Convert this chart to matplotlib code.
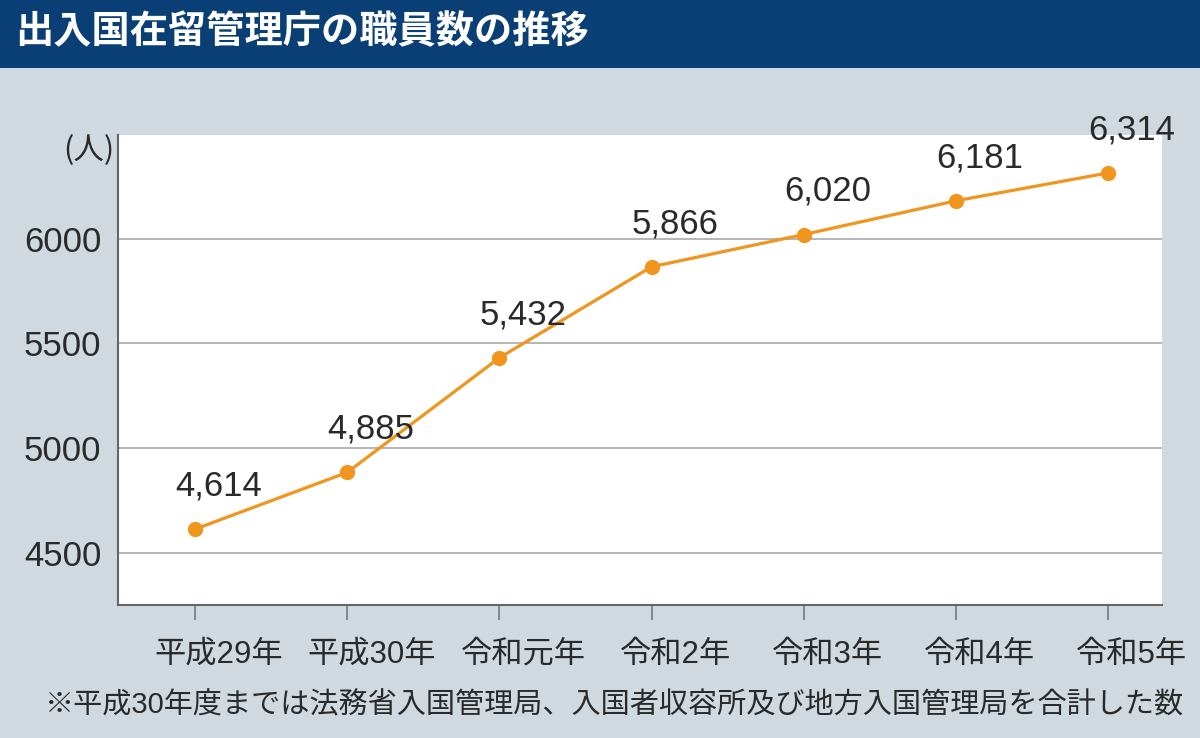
import matplotlib.pyplot as plt
from matplotlib.patches import Rectangle
from matplotlib.transforms import ScaledTranslation

plt.rcParams['font.family'] = ['Liberation Sans', 'Noto Sans CJK JP', 'DejaVu Sans']

TITLE = "出入国在留管理庁の職員数の推移"
NOTE = "※平成30年度までは法務省入国管理局、入国者収容所及び地方入国管理局を合計した数"
years = ["平成29年", "平成30年", "令和元年", "令和2年", "令和3年", "令和4年", "令和5年"]
staff = [4614, 4885, 5432, 5866, 6020, 6181, 6314]
y_ticks = [4500, 5000, 5500, 6000]

BG = "#cfd9df"
NAVY = "#0a3f76"
ORANGE = "#f0961f"
INK = "#2a2a2a"


def main():
    fig = plt.figure(figsize=(12, 7.38), dpi=100, facecolor=BG)

    # title bar
    fig.patches.append(Rectangle((0, 1 - 68 / 738), 1, 68 / 738, transform=fig.transFigure,
                                 facecolor=NAVY, edgecolor="none", zorder=0))
    fig.text(15 / 1200, 1 - 32 / 738, TITLE, color="white", fontsize=27.5, fontweight="bold",
             family=["Noto Sans CJK JP"], ha="left", va="center")

    ax = fig.add_axes([118 / 1200, 133 / 738, 1044 / 1200, 470 / 738])
    ax.set_facecolor("white")

    x = list(range(len(years)))
    ax.plot(x, staff, color=ORANGE, lw=2.3, marker="o", ms=10, zorder=3)
    for xi, v in zip(x, staff):
        ax.annotate(f"{v:,}", (xi, v), xytext=(17, 31), textcoords="offset points",
                    ha="center", va="center", fontsize=25, color=INK)

    ax.set_xlim(-0.507, 6.355)
    ax.set_ylim(4252, 6495)
    ax.set_yticks(y_ticks)
    ax.set_yticklabels([str(t) for t in y_ticks], fontsize=25, color=INK)
    ax.set_xticks(x)
    ax.set_xticklabels(years, fontsize=22.5, color=INK)
    ax.yaxis.grid(True, color="#a9a9a9", lw=1.2)
    ax.set_axisbelow(True)

    ax.tick_params(axis="y", length=0, pad=12)
    ax.tick_params(axis="x", length=11, width=1.2, color="#777777", pad=14)

    # year labels sit a little right of their ticks in the original
    shift = ScaledTranslation(24 / 100, 0, fig.dpi_scale_trans)
    for lab in ax.get_xticklabels():
        lab.set_transform(lab.get_transform() + shift)

    for side in ("top", "right"):
        ax.spines[side].set_visible(False)
    for side in ("left", "bottom"):
        ax.spines[side].set_color("#666666")
        ax.spines[side].set_linewidth(1.5)

    ax.text(-0.003, 0.966, "(人)", transform=ax.transAxes, ha="right", va="center",
            fontsize=22, color=INK, family=["Noto Sans CJK JP"])

    fig.text(45 / 1200, 1 - 705 / 738, NOTE, fontsize=21, color=INK,
             ha="left", va="center")

    fig.savefig("out.png", dpi=100, facecolor=BG)


if __name__ == "__main__":
    main()
